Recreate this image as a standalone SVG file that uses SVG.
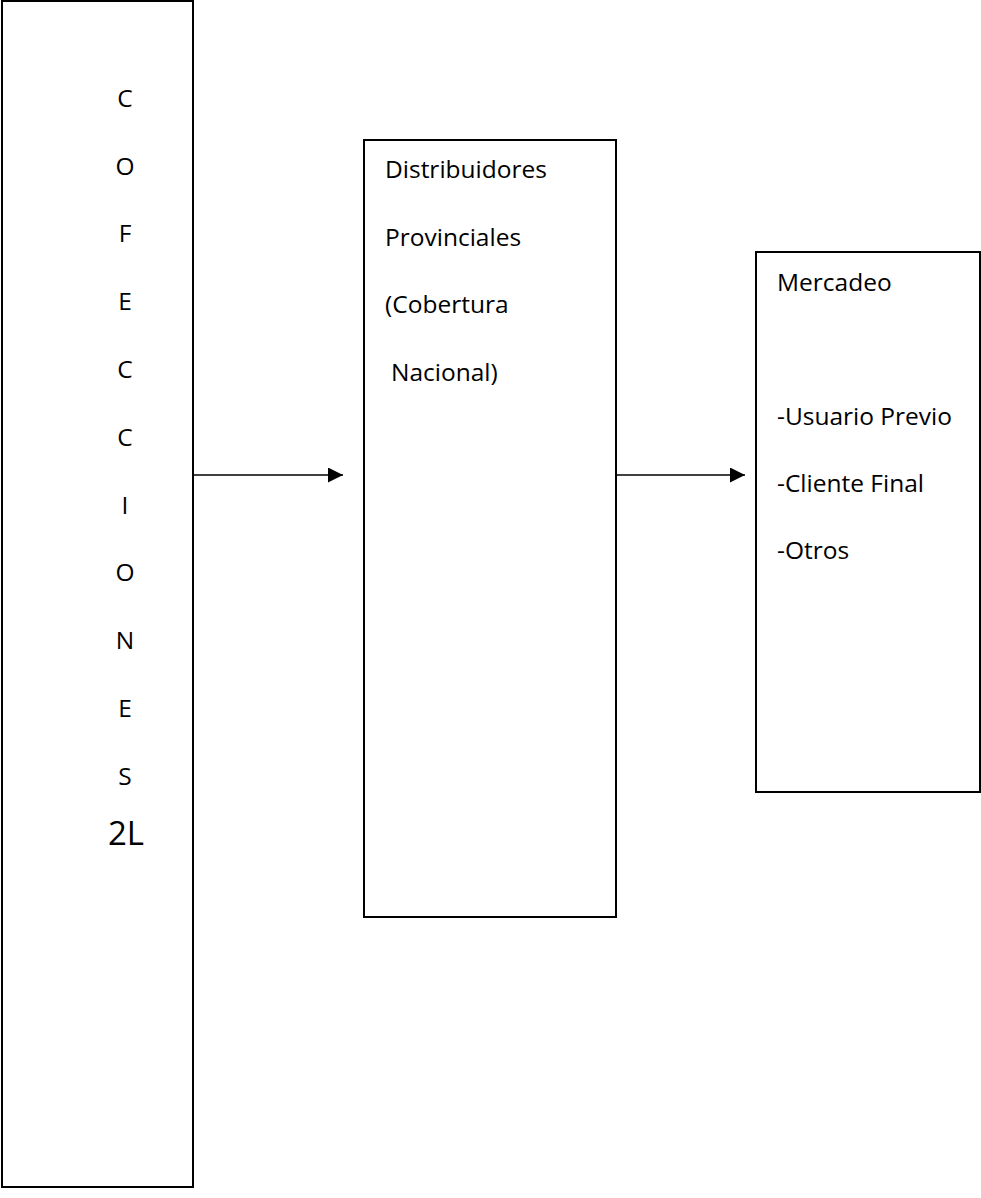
<svg xmlns="http://www.w3.org/2000/svg" width="981" height="1198" viewBox="0 0 981 1198">
  <style>
    .box { fill: #ffffff; stroke: #000000; stroke-width: 2; }
    .t { font-family: "Open Sans", "Liberation Sans", sans-serif; font-size: 24.5px; fill: #000000; }
    .big { font-size: 33px; }
    .link { stroke: #000000; stroke-width: 1.5; fill: none; marker-end: url(#arrow); }
  </style>
  <defs>
    <marker id="arrow" viewBox="0 0 10 10" refX="10" refY="5" markerUnits="userSpaceOnUse" markerWidth="16" markerHeight="15" orient="auto">
      <path d="M0,0 L10,5 L0,10 z" fill="#000000"/>
    </marker>
  </defs>

  <!-- vertical producer column -->
  <g id="confecciones">
    <rect class="box" x="2" y="1" width="191" height="1186"/>
    <g class="t" text-anchor="middle">
      <text x="125" y="107">C</text>
      <text x="125" y="175">O</text>
      <text x="125" y="242">F</text>
      <text x="125" y="310">E</text>
      <text x="125" y="378">C</text>
      <text x="125" y="446">C</text>
      <text x="125" y="514">I</text>
      <text x="125" y="581">O</text>
      <text x="125" y="649">N</text>
      <text x="125" y="717">E</text>
      <text x="125" y="785">S</text>
      <text class="big" x="126" y="845">2L</text>
    </g>
  </g>

  <!-- provincial distributors -->
  <g id="distribuidores">
    <rect class="box" x="364" y="140" width="252" height="777"/>
    <g class="t">
      <text x="385" y="178">Distribuidores</text>
      <text x="385" y="246">Provinciales</text>
      <text x="385" y="313">(Cobertura</text>
      <text x="391" y="381">Nacional)</text>
    </g>
  </g>

  <!-- market segments -->
  <g id="mercadeo">
    <rect class="box" x="756" y="252" width="224" height="540"/>
    <g class="t">
      <text x="777" y="291">Mercadeo</text>
      <text x="777" y="425">-Usuario Previo</text>
      <text x="777" y="492">-Cliente Final</text>
      <text x="777" y="559">-Otros</text>
    </g>
  </g>

  <!-- flow arrows -->
  <g id="connectors">
    <line class="link" x1="193" y1="475" x2="343" y2="475"/>
    <line class="link" x1="616" y1="475" x2="745" y2="475"/>
  </g>
</svg>
